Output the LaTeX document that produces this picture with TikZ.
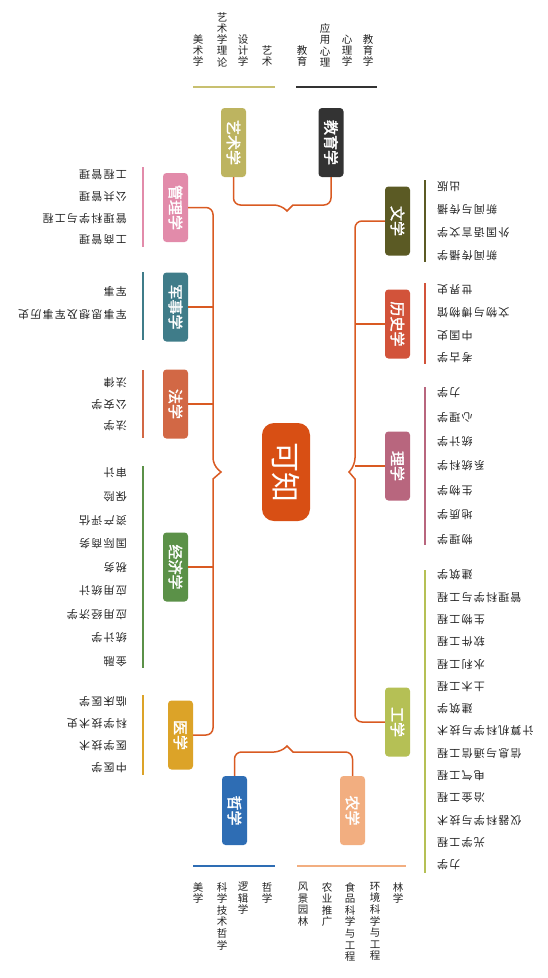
\documentclass[tikz,border=0pt]{standalone}
\usepackage{fontspec}
\setmainfont{Noto Sans CJK SC}[AutoFakeBold=2]
\newfontfamily\rowfont{Noto Sans CJK SC}[LetterSpace=11]
\definecolor{conn}{HTML}{D95A22}
\definecolor{cmain}{HTML}{D84F14}
\definecolor{txt}{HTML}{222222}
\definecolor{cJiaoyu}{HTML}{333333}
\definecolor{cYishu}{HTML}{BDB460}
\definecolor{cYishuBar}{HTML}{C8C070}
\definecolor{cWen}{HTML}{5B5A24}
\definecolor{cLishi}{HTML}{D2533A}
\definecolor{cLi}{HTML}{B8667E}
\definecolor{cGong}{HTML}{B5C055}
\definecolor{cNong}{HTML}{F2AE80}
\definecolor{cZhe}{HTML}{2E6DB4}
\definecolor{cGuanli}{HTML}{E28BAA}
\definecolor{cJunshi}{HTML}{3F7C89}
\definecolor{cFa}{HTML}{D26845}
\definecolor{cJingji}{HTML}{5B9148}
\definecolor{cYi}{HTML}{DCA328}
\begin{document}
\begin{tikzpicture}[x=1pt,y=-1pt,
  box/.style={rounded corners=3.5pt, minimum width=25pt, minimum height=69pt, inner sep=0pt, text=white, font=\fontsize{15}{15}\selectfont\bfseries},
  conn/.style={draw=conn, line width=1.5pt, rounded corners=7pt},
  bar/.style={line width=2pt},
  rleaf/.style={anchor=west, inner sep=0pt, text=txt, font=\rowfont\fontsize{11}{11}\selectfont},
  lleaf/.style={anchor=east, inner sep=0pt, text=txt, font=\rowfont\fontsize{11}{11}\selectfont},
  tcol/.style={anchor=south, inner sep=0pt, align=center, text=txt, font=\fontsize{10.5}{11.2}\selectfont},
  bcol/.style={anchor=north, inner sep=0pt, align=center, text=txt, font=\fontsize{10.5}{11.6}\selectfont}]
\useasboundingbox (0,0) rectangle (547,978);

% central node
\node[fill=cmain, rounded corners=12pt, minimum width=48pt, minimum height=98pt, inner sep=0pt, text=white, font=\fontsize{30}{30}\selectfont] (center) at (286,472) {\rotatebox{-90}{可知}};

% branch boxes
\node[box, fill=cJiaoyu] (jiaoyu) at (331,142.5) {\rotatebox{-90}{教育学}};
\node[box, fill=cYishu] (yishu) at (233.5,142.5) {\rotatebox{-90}{艺术学}};
\node[box, fill=cWen] (wenxue) at (397.5,221) {\rotatebox{-90}{文学}};
\node[box, fill=cLishi] (lishi) at (397.5,324) {\rotatebox{-90}{历史学}};
\node[box, fill=cLi] (lixue) at (397.5,466) {\rotatebox{-90}{理学}};
\node[box, fill=cGong] (gongxue) at (397.5,722) {\rotatebox{-90}{工学}};
\node[box, fill=cNong] (nongxue) at (352.5,810.5) {\rotatebox{-90}{农学}};
\node[box, fill=cZhe] (zhexue) at (234.5,810.5) {\rotatebox{-90}{哲学}};
\node[box, fill=cGuanli] (guanli) at (175.5,207.5) {\rotatebox{-90}{管理学}};
\node[box, fill=cJunshi] (junshi) at (175.5,307) {\rotatebox{-90}{军事学}};
\node[box, fill=cFa] (faxue) at (175.5,404) {\rotatebox{-90}{法学}};
\node[box, fill=cJingji] (jingji) at (175.5,567) {\rotatebox{-90}{经济学}};
\node[box, fill=cYi] (yixue) at (180.5,735) {\rotatebox{-90}{医学}};

% notch coordinates
\coordinate (tA) at (281,205); \coordinate (tT) at (287,211); \coordinate (tB) at (293,205);
\coordinate (bA) at (281,752); \coordinate (bT) at (287,746); \coordinate (bB) at (293,752);
\coordinate (lA) at (213,465); \coordinate (lT) at (221,472); \coordinate (lB) at (213,479);
\coordinate (rA) at (355,465); \coordinate (rT) at (349,472); \coordinate (rB) at (355,479);

% connectors
\draw[conn] (yishu.south) |- (tA) [sharp corners] -- (tT) -- (tB) [rounded corners=7pt] -| (jiaoyu.south);
\draw[conn] (zhexue.north) |- (bA) [sharp corners] -- (bT) -- (bB) [rounded corners=7pt] -| (nongxue.north);
\draw[conn] (guanli.east) -| (lA) [sharp corners] -- (lT) -- (lB) [rounded corners=7pt] |- (yixue.east);
\draw[conn] (junshi.east) -- (junshi.east -| lA);
\draw[conn] (faxue.east) -- (faxue.east -| lA);
\draw[conn] (jingji.east) -- (jingji.east -| lA);
\draw[conn] (wenxue.west) -| (rA) [sharp corners] -- (rT) -- (rB) [rounded corners=7pt] |- (gongxue.west);
\draw[conn] (lishi.west) -- (lishi.west -| rA);
\draw[conn] (lixue.west) -- (lixue.west -| rA);

% bars
\draw[bar, cYishuBar] (193,87) -- (275,87);
\draw[bar, cJiaoyu] (296,87) -- (377,87);
\draw[bar, cZhe] (193,866) -- (275,866);
\draw[bar, cNong] (297,866) -- (406,866);
\draw[bar, cWen] (425,180) -- (425,262);
\draw[bar, cLishi] (425,283) -- (425,364);
\draw[bar, cLi] (425,387) -- (425,545);
\draw[bar, cGong] (425,570) -- (425,873);
\draw[bar, cGuanli] (143,167) -- (143,247);
\draw[bar, cJunshi] (143,272) -- (143,340);
\draw[bar, cFa] (143,370) -- (143,438);
\draw[bar, cJingji] (143,466) -- (143,668);
\draw[bar, cYi] (143,695) -- (143,775);

% top leaves
\node[tcol] (ys1) at (198,67) {美\\术\\学};
\node[tcol] (ys2) at (222,67) {艺\\术\\学\\理\\论};
\node[tcol] (ys3) at (243,67) {设\\计\\学};
\node[tcol] (ys4) at (267,67) {艺\\术};
\node[tcol] (jy1) at (302,67) {教\\育};
\node[tcol] (jy2) at (325,67) {应\\用\\心\\理};
\node[tcol] (jy3) at (347,67) {心\\理\\学};
\node[tcol] (jy4) at (368,67) {教\\育\\学};

% bottom leaves
\node[bcol] (zx1) at (198,882) {美\\学};
\node[bcol] (zx2) at (222,882) {科\\学\\技\\术\\哲\\学};
\node[bcol] (zx3) at (243,882) {逻\\辑\\学};
\node[bcol] (zx4) at (267,882) {哲\\学};
\node[bcol] (nx1) at (303,882) {风\\景\\园\\林};
\node[bcol] (nx2) at (327,882) {农\\业\\推\\广};
\node[bcol] (nx3) at (350,882) {食\\品\\科\\学\\与\\工\\程};
\node[bcol] (nx4) at (375,882) {环\\境\\科\\学\\与\\工\\程};
\node[bcol] (nx5) at (398,882) {林\\学};

% right leaves
\foreach \t [count=\i from 0] in {出版,新闻与传播,外国语言文学,新闻传播学}
  \node[rleaf] (wx\i) at (437,{187+23*\i}) {\rotatebox{180}{\t}};
\foreach \t [count=\i from 0] in {世界史,文物与博物馆,中国史,考古学}
  \node[rleaf] (ls\i) at (437,{290+22.7*\i}) {\rotatebox{180}{\t}};
\foreach \t [count=\i from 0] in {力学,心理学,统计学,系统科学,生物学,地质学,物理学}
  \node[rleaf] (lx\i) at (437,{393+24.4*\i}) {\rotatebox{180}{\t}};
\foreach \t [count=\i from 0] in {建筑学,管理科学与工程,生物工程,软件工程,水利工程,土木工程,建筑学,计算机科学与技术,信息与通信工程,电气工程,冶金工程,仪器科学与技术,光学工程,力学}
  \node[rleaf] (gx\i) at (437,{575+22.3*\i}) {\rotatebox{180}{\t}};

% left leaves
\foreach \t [count=\i from 0] in {工程管理,公共管理,管理科学与工程,工商管理}
  \node[lleaf] (gl\i) at (127,{175+21.7*\i}) {\rotatebox{180}{\t}};
\foreach \t [count=\i from 0] in {军事,军事思想及军事历史}
  \node[lleaf] (js\i) at (127,{292+23*\i}) {\rotatebox{180}{\t}};
\foreach \t [count=\i from 0] in {法律,公安学,法学}
  \node[lleaf] (fx\i) at (127,{383+21.5*\i}) {\rotatebox{180}{\t}};
\foreach \t [count=\i from 0] in {审计,保险,资产评估,国际商务,税务,应用统计,应用经济学,统计学,金融}
  \node[lleaf] (jj\i) at (127,{473+23.6*\i}) {\rotatebox{180}{\t}};
\foreach \t [count=\i from 0] in {临床医学,科学技术史,医学技术,中医学}
  \node[lleaf] (yx\i) at (127,{702+22*\i}) {\rotatebox{180}{\t}};
\end{tikzpicture}
\end{document}
